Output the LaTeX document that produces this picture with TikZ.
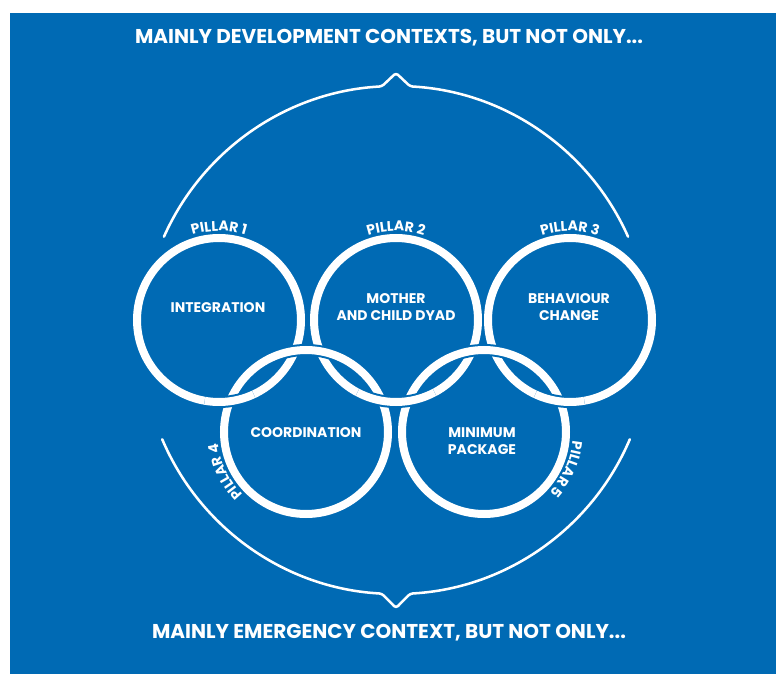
\documentclass[tikz,border=0pt]{standalone}
\usepackage{fontspec}
\setmainfont{Poppins}
\usetikzlibrary{decorations.text}
\definecolor{unblue}{RGB}{0,106,180}
\newcommand\pillarfont{\bfseries\fontsize{10.5}{11}\selectfont\color{white}}

\tikzset{
  ring/.style={draw=white, line width=6pt},
  ringgap/.style={draw=unblue, line width=9pt},
  bigarc/.style={draw=white, line width=1.9pt, line cap=round, line join=round},
  headline/.style={text=white, font=\bfseries\fontsize{15}{16}\selectfont},
  inlabel/.style={text=white, font=\bfseries\fontsize{10.5}{12.5}\selectfont, align=center},
}

\begin{document}
\begin{tikzpicture}[x=0.75pt, y=-0.75pt]
        \useasboundingbox (0,0) rectangle (776,674);
        \fill [white] (0,0) rectangle (776,674);
        \fill [unblue] (10,13) rectangle (776,674);
        % ring centres
        \coordinate (r1) at (219,320);
        \coordinate (r2) at (396,320);
        \coordinate (r3) at (570,320);
        \coordinate (r4) at (306,432);
        \coordinate (r5) at (484,432);
        \coordinate (big) at (396,340);
        % outer arcs
        \draw [bigarc, rounded corners=2pt] (big) ++(204:254) arc[start angle=204, end angle=266.8, radius=254]
              -- (396,73) -- (410.2,86.4) arc[start angle=273.2, end angle=336, radius=254];
        \draw [bigarc, rounded corners=2pt] (big) ++(157:254) arc[start angle=157, end angle=93.2, radius=254]
              -- (396,608) -- (410.2,593.6) arc[start angle=86.8, end angle=23, radius=254];
        % rings
        \foreach \c in {r1,r2,r3,r4,r5} {
          \draw [ringgap] (\c) circle[radius=82];
          \draw [ring] (\c) circle[radius=82];
        }
        % top rings over the lower ones at the bottom crossings
        \foreach \c/\a/\b in {r1/65/100, r2/62/118, r3/80/115} {
          \draw [ringgap] (\c) ++(\a:82) arc[start angle=\a, end angle=\b, radius=82];
          \draw [ring] (\c) ++(\a:82) arc[start angle=\a, end angle=\b, radius=82];
        }
        % pillar names
        \path [decorate, decoration={text along path, text align=center, text={|\pillarfont|PILLAR 1}}]
              (r1) ++(240:89) arc[start angle=240, end angle=300, radius=89];
        \path [decorate, decoration={text along path, text align=center, text={|\pillarfont|PILLAR 2}}]
              (r2) ++(240:89) arc[start angle=240, end angle=300, radius=89];
        \path [decorate, decoration={text along path, text align=center, text={|\pillarfont|PILLAR 3}}]
              (r3) ++(240:89) arc[start angle=240, end angle=300, radius=89];
        \path [decorate, decoration={text along path, text align=center, text={|\pillarfont|PILLAR 4}}]
              (r4) ++(124:89) arc[start angle=124, end angle=184, radius=89];
        \path [decorate, decoration={text along path, text align=center, text={|\pillarfont|PILLAR 5}}]
              (r5) ++(-6:89) arc[start angle=-6, end angle=54, radius=89];
        % texts
        \node [headline] (dev) at (389,38) {MAINLY DEVELOPMENT CONTEXTS, BUT NOT ONLY...};
        \node [headline] (emg) at (389,633) {MAINLY EMERGENCY CONTEXT, BUT NOT ONLY...};
        \node [inlabel] (integ) at (218,308) {INTEGRATION};
        \node [inlabel] (dyad) at (396,307) {MOTHER\\AND CHILD DYAD};
        \node [inlabel] (behav) at (569,307) {BEHAVIOUR\\CHANGE};
        \node [inlabel] (coord) at (306,433) {COORDINATION};
        \node [inlabel] (minpack) at (482,441) {MINIMUM\\PACKAGE};
\end{tikzpicture}
\end{document}
